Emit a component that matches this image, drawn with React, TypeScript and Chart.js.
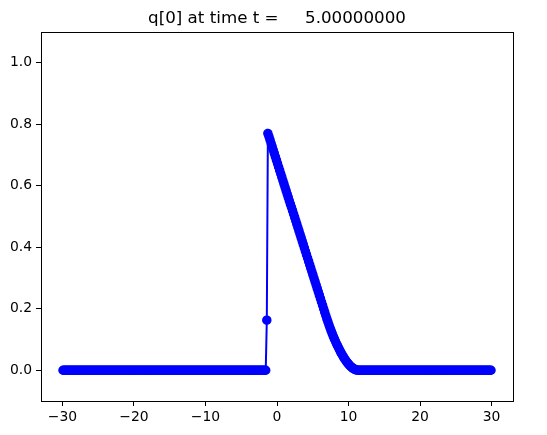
import React, { useEffect, useRef } from "react";
import { Chart, registerables } from "chart.js";

Chart.register(...registerables);

// Grid (cell centres of a 400-cell mesh on [-30, 30])
const X_LOWER = -30;
const X_UPPER = 30;
const NUM_CELLS = 400;

// Solution values; all cells outside the hump are 0.
const HUMP_START_INDEX = 190; // cell centred at x = -1.425
const HUMP_VALUES = [
  0.163, 0.770, 0.760, 0.749, 0.738, 0.727, 0.716, 0.705, 0.694, 0.683,
  0.672, 0.661, 0.650, 0.639, 0.628, 0.617, 0.606, 0.595, 0.584, 0.573,
  0.562, 0.551, 0.540, 0.530, 0.519, 0.508, 0.497, 0.486, 0.475, 0.464,
  0.453, 0.442, 0.431, 0.420, 0.409, 0.398, 0.387, 0.376, 0.365, 0.354,
  0.343, 0.332, 0.321, 0.310, 0.299, 0.288, 0.277, 0.266, 0.255, 0.244,
  0.233, 0.222, 0.211, 0.200, 0.189, 0.178, 0.167, 0.157, 0.147, 0.137,
  0.128, 0.119, 0.110, 0.102, 0.094, 0.086, 0.079, 0.072, 0.065, 0.058,
  0.052, 0.046, 0.040, 0.035, 0.030, 0.025, 0.021, 0.017, 0.013, 0.010,
  0.007, 0.005, 0.003, 0.0015, 0.0005,
];

const X_TICKS = [-30, -20, -10, 0, 10, 20, 30];
const Y_TICKS = [0.0, 0.2, 0.4, 0.6, 0.8, 1.0];
const TITLE = "q[0] at time t =     5.00000000";

const X_MIN = -33;
const X_MAX = 33;
const Y_MIN = -0.1;
const Y_MAX = 1.1;

const FONT = "'DejaVu Sans', sans-serif";

export default function App() {
  const ref = useRef<HTMLCanvasElement | null>(null);

  useEffect(() => {
    document.body.style.margin = "0";
    const canvas = ref.current;
    if (!canvas) return;

    const dx = (X_UPPER - X_LOWER) / NUM_CELLS;
    const points = [] as { x: number; y: number }[];
    for (let i = 0; i < NUM_CELLS; i++) {
      const x = X_LOWER + dx * (i + 0.5);
      const k = i - HUMP_START_INDEX;
      const y = k >= 0 && k < HUMP_VALUES.length ? HUMP_VALUES[k] : 0;
      points.push({ x, y });
    }

    const framePlugin = {
      id: "frameAndTitle",
      afterDraw(chart: any) {
        const { ctx, chartArea } = chart;
        ctx.save();
        ctx.strokeStyle = "#000";
        ctx.lineWidth = 1;
        ctx.strokeRect(
          Math.round(chartArea.left) + 0.5,
          Math.round(chartArea.top) + 0.5,
          Math.round(chartArea.right - chartArea.left),
          Math.round(chartArea.bottom - chartArea.top)
        );
        ctx.fillStyle = "#000";
        ctx.font = `16.7px ${FONT}`;
        ctx.textAlign = "center";
        ctx.textBaseline = "alphabetic";
        ctx.fillText(TITLE, (chartArea.left + chartArea.right) / 2, 23);
        ctx.restore();
      },
    };

    const chart = new Chart(canvas, {
      type: "scatter",
      data: {
        datasets: [
          {
            data: points,
            showLine: true,
            borderColor: "#0000ff",
            backgroundColor: "#0000ff",
            borderWidth: 2,
            pointRadius: 4.1,
            pointBorderWidth: 1.3,
            pointBackgroundColor: "#0000ff",
            pointBorderColor: "#0000ff",
          },
        ],
      },
      options: {
        responsive: false,
        animation: false,
        devicePixelRatio: 1,
        layout: { padding: { left: 0, right: 34, top: 32, bottom: 0 } },
        plugins: {
          legend: { display: false },
          tooltip: { enabled: false },
          title: { display: false },
        },
        scales: {
          x: {
            type: "linear",
            min: X_MIN,
            max: X_MAX,
            afterBuildTicks: (scale: any) => {
              scale.ticks = X_TICKS.map((v) => ({ value: v }));
            },
            afterFit: (scale: any) => {
              scale.height = 34;
            },
            border: { display: false },
            grid: {
              drawOnChartArea: false,
              drawTicks: true,
              tickLength: 5,
              tickColor: "#000",
              color: "#000",
            },
            ticks: {
              color: "#000",
              padding: 3,
              maxRotation: 0,
              autoSkip: false,
              font: { family: FONT, size: 13.9 },
              callback: (v: any) =>
                Number(v) < 0 ? "\u2212" + Math.abs(Number(v)) : String(v),
            },
          },
          y: {
            type: "linear",
            min: Y_MIN,
            max: Y_MAX,
            afterBuildTicks: (scale: any) => {
              scale.ticks = Y_TICKS.map((v) => ({ value: v }));
            },
            afterFit: (scale: any) => {
              scale.width = 41;
            },
            border: { display: false },
            grid: {
              drawOnChartArea: false,
              drawTicks: true,
              tickLength: 5,
              tickColor: "#000",
              color: "#000",
            },
            ticks: {
              color: "#000",
              padding: 4,
              autoSkip: false,
              font: { family: FONT, size: 13.9 },
              callback: (v: any) => Number(v).toFixed(1),
            },
          },
        },
      },
      plugins: [framePlugin],
    });

    return () => chart.destroy();
  }, []);

  return <canvas ref={ref} width={547} height={435} style={{ display: "block" }} />;
}
